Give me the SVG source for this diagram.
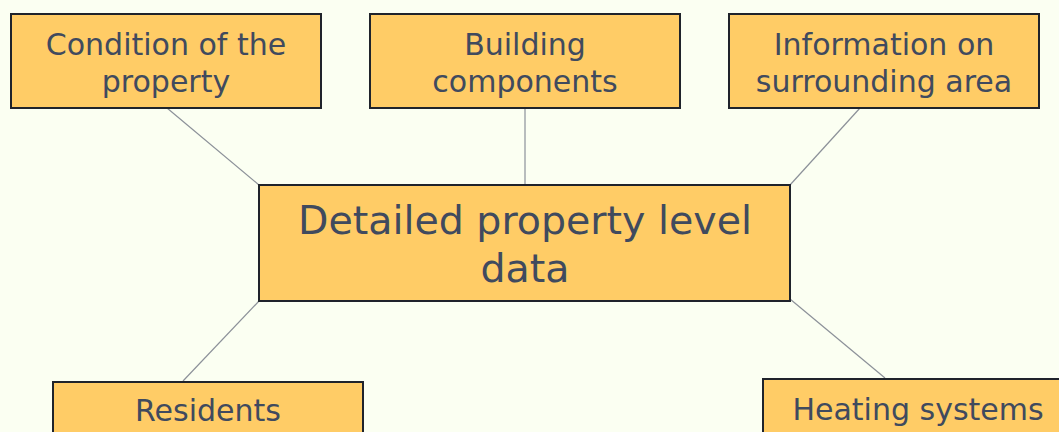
<svg xmlns="http://www.w3.org/2000/svg" width="1059" height="432" viewBox="0 0 1059 432">
<style>
.box{fill:#FFCC66;stroke:#1F232B;stroke-width:2}
.t{font-family:"DejaVu Sans",sans-serif;font-size:30px;fill:#404A5E;text-anchor:middle}
.tc{font-family:"DejaVu Sans",sans-serif;font-size:39.5px;fill:#404A5E;text-anchor:middle}
.c{stroke:#8C9199;stroke-width:1.2;fill:none}
</style>
<rect width="1059" height="432" fill="#FBFFF2"/>
<g id="connectors">
<line class="c" x1="167" y1="108" x2="259" y2="185"/>
<line class="c" x1="525" y1="108" x2="525" y2="185"/>
<line class="c" x1="860" y1="108" x2="790" y2="185"/>
<line class="c" x1="259" y1="301" x2="183" y2="381"/>
<line class="c" x1="790" y1="299" x2="885" y2="378"/>
</g>
<g id="condition">
<rect class="box" x="11" y="14" width="310" height="94"/>
<text class="t" x="166" y="55">Condition of the</text>
<text class="t" x="166" y="92">property</text>
</g>
<g id="building">
<rect class="box" x="370" y="14" width="310" height="94"/>
<text class="t" x="525" y="55">Building</text>
<text class="t" x="525" y="92">components</text>
</g>
<g id="information">
<rect class="box" x="729" y="14" width="310" height="94"/>
<text class="t" x="884" y="55">Information on</text>
<text class="t" x="884" y="92">surrounding area</text>
</g>
<g id="center">
<rect class="box" x="259" y="185" width="531" height="116"/>
<text class="tc" x="525" y="234">Detailed property level</text>
<text class="tc" x="525" y="282">data</text>
</g>
<g id="residents">
<rect class="box" x="53" y="382" width="310" height="70"/>
<text class="t" x="208" y="421">Residents</text>
</g>
<g id="heating">
<rect class="box" x="763" y="379" width="310" height="70"/>
<text class="t" x="918" y="420">Heating systems</text>
</g>
</svg>
